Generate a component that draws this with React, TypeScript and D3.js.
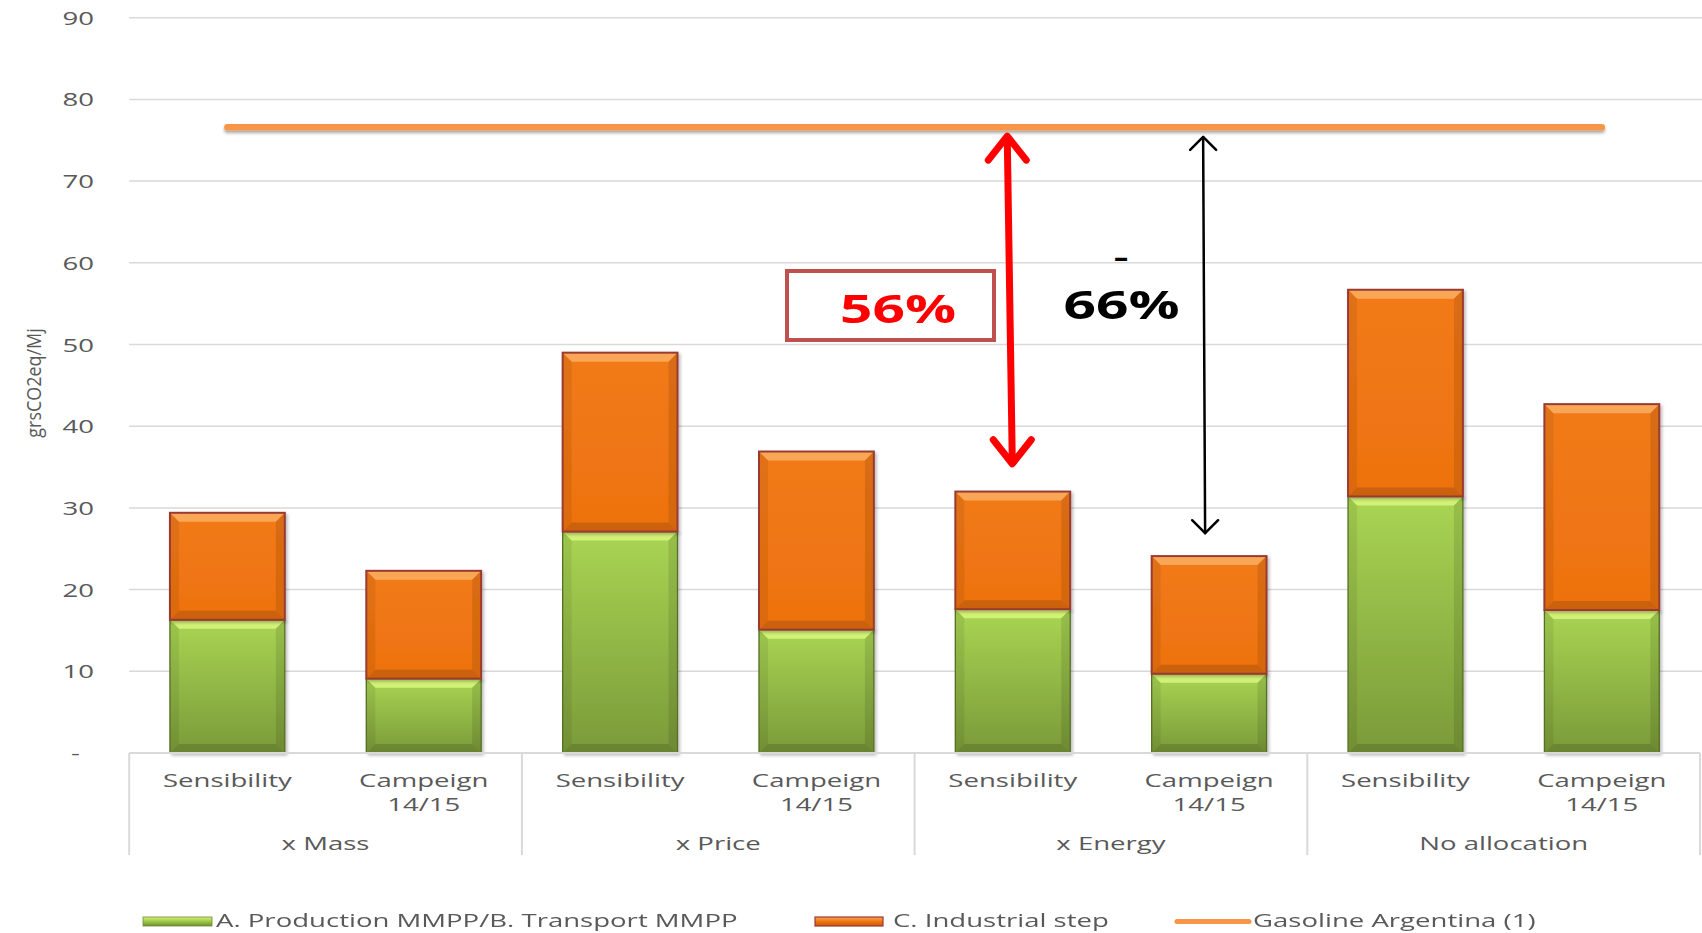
import React from "react";
import * as d3 from "d3";

// ---------- data ----------
const groups = ["x Mass", "x Price", "x Energy", "No allocation"];
const subCategories = [["Sensibility"], ["Campeign", "14/15"]];
const productionTransport = [16.3, 9.1, 27.1, 15.1, 17.6, 9.7, 31.4, 17.5];
const industrialStep = [13.1, 13.2, 21.9, 21.8, 14.4, 14.4, 25.3, 25.2];
const gasolineArgentina = 76.6;
const yTickValues = [0, 10, 20, 30, 40, 50, 60, 70, 80, 90];
const seriesNames = [
  "A. Production MMPP/B. Transport MMPP",
  "C. Industrial step",
  "Gasoline Argentina (1)",
];
const reductionArrowBars = [4, 5];
const reductionArrowBottoms = [35.4, 26.9];
const reductionArrowTops = [75.5, 75.4];
const reductionLabels = ["56%", "66%"];
const yAxisTitle = "grsCO2eq/Mj";

// ---------- layout ----------
const W = 1702;
const H = 933;
const plotLeft = 129.2;
const plotRight = 1700;
const yTop = 17.7;
const yBottom = 753;
const FONT = "'Open Sans', 'Liberation Sans', sans-serif";
const TXT = "#595959";
const SX = 1.45;

const categories = groups.flatMap((g, gi) =>
  subCategories.map((s, si) => ({ key: `${gi}-${si}`, group: g, lines: s }))
);

const rows = categories.map((c, i) => ({
  key: c.key,
  green: productionTransport[i],
  orange: industrialStep[i],
}));

function STxt(props: any) {
  const {
    x, y, children, anchor = "middle", size = 19, weight = 400,
    fill = TXT, sx = SX,
  } = props;
  return (
    <text
      transform={`translate(${x},${y}) scale(${sx},1)`}
      textAnchor={anchor}
      fontFamily={FONT}
      fontSize={size}
      fontWeight={weight}
      fill={fill}
    >
      {children}
    </text>
  );
}

function Segment(props: any) {
  const { x, y, w, h, kind } = props;
  const b = Math.min(9, h / 3);
  const isG = kind === "green";
  return (
    <g>
      <rect x={x} y={y} width={w} height={h} fill={isG ? "url(#gGreen)" : "url(#gOrange)"} />
      <polygon
        points={`${x},${y} ${x + w},${y} ${x + w - b},${y + b} ${x + b},${y + b}`}
        fill={isG ? "#e4ff86" : "#fbb66c"}
        opacity={isG ? 0.7 : 0.75}
      />
      <polygon
        points={`${x},${y} ${x + b},${y + b} ${x + b},${y + h - b} ${x},${y + h}`}
        fill="#000"
        opacity={0.07}
      />
      <polygon
        points={`${x + w},${y} ${x + w},${y + h} ${x + w - b},${y + h - b} ${x + w - b},${y + b}`}
        fill="#000"
        opacity={0.1}
      />
      <polygon
        points={`${x},${y + h} ${x + b},${y + h - b} ${x + w - b},${y + h - b} ${x + w},${y + h}`}
        fill="#000"
        opacity={0.14}
      />
      <rect
        x={x}
        y={y}
        width={w}
        height={h}
        fill="none"
        stroke={isG ? "#556f25" : "#9a3a33"}
        strokeWidth={isG ? 1.3 : 2}
      />
    </g>
  );
}

export default function App() {
  const x = d3
    .scaleBand<string>()
    .domain(categories.map((c) => c.key))
    .range([plotLeft, plotRight])
    .paddingInner(0.415)
    .paddingOuter(0.2075);
  const xg = d3.scaleBand<string>().domain(groups).range([plotLeft, plotRight]).padding(0);
  const y = d3.scaleLinear().domain([0, 90]).range([yBottom, yTop]);

  const stack = d3.stack<any>().keys(["green", "orange"]);
  const series = stack(rows);

  const center = (i: number) => (x(categories[i].key) as number) + x.bandwidth() / 2;
  const firstC = center(0);
  const lastC = center(categories.length - 1);
  const gy = y(gasolineArgentina);

  const chevron = (tx: number, ty: number, dx: number, dy: number) =>
    `M${tx - dx},${ty + dy} L${tx},${ty} L${tx + dx},${ty + dy}`;

  const redX = center(reductionArrowBars[0]);
  const blkX = center(reductionArrowBars[1]);
  const rTop = { x: redX - 5.5, y: y(reductionArrowTops[0]) };
  const rBot = { x: redX - 0.5, y: y(reductionArrowBottoms[0]) };
  const bTop = { x: blkX - 6, y: y(reductionArrowTops[1]) };
  const bBot = { x: blkX - 4, y: y(reductionArrowBottoms[1]) };

  return (
    <svg
      width={W}
      height={H}
      style={{ position: "absolute", left: 0, top: 0, display: "block", background: "#fff" }}
    >
      <defs>
        <linearGradient id="gGreen" x1="0" y1="0" x2="0" y2="1">
          <stop offset="0" stopColor="#a9d553" />
          <stop offset="1" stopColor="#7a9a39" />
        </linearGradient>
        <linearGradient id="gOrange" x1="0" y1="0" x2="0" y2="1">
          <stop offset="0" stopColor="#f27a16" />
          <stop offset="1" stopColor="#ed7210" />
        </linearGradient>
        <linearGradient id="gLegGreen" x1="0" y1="0" x2="0" y2="1">
          <stop offset="0" stopColor="#d6f27c" />
          <stop offset="0.5" stopColor="#9cc845" />
          <stop offset="1" stopColor="#6f8e33" />
        </linearGradient>
        <linearGradient id="gLegOrange" x1="0" y1="0" x2="0" y2="1">
          <stop offset="0" stopColor="#f9a85a" />
          <stop offset="0.5" stopColor="#ef7513" />
          <stop offset="1" stopColor="#c9590c" />
        </linearGradient>
        <filter id="shadow" x="-10%" y="-10%" width="130%" height="130%">
          <feDropShadow dx="2" dy="2" stdDeviation="1.5" floodColor="#000" floodOpacity="0.25" />
        </filter>
        <filter id="lineShadow" filterUnits="userSpaceOnUse" x="0" y="0" width={W} height={H}>
          <feDropShadow dx="0" dy="2.5" stdDeviation="1.5" floodColor="#000" floodOpacity="0.35" />
        </filter>
      </defs>

      {/* gridlines */}
      {yTickValues.filter((v) => v > 0).map((v) => (
        <line key={v} x1={plotLeft} x2={W} y1={y(v)} y2={y(v)} stroke="#d9d9d9" strokeWidth={1.5} />
      ))}

      {/* y tick labels */}
      {yTickValues.map((v) => (
        <STxt key={v} x={v === 0 ? 80 : 94} y={y(v) + 7} anchor="end">
          {v === 0 ? "-" : String(v)}
        </STxt>
      ))}

      {/* y axis title */}
      <text
        transform={`translate(41,383) rotate(-90) scale(0.92,1)`}
        textAnchor="middle"
        fontFamily={FONT}
        fontSize={19.5}
        fill={TXT}
      >
        {yAxisTitle}
      </text>

      {/* bars */}
      {series.map((s) => (
        <g key={s.key} filter="url(#shadow)">
          {s.map((d, i) => {
            const bx = x(categories[i].key) as number;
            const top = y(d[1]);
            const h = y(d[0]) - y(d[1]);
            return <Segment key={i} x={bx} y={top} w={x.bandwidth()} h={h} kind={s.key} />;
          })}
        </g>
      ))}

      {/* x axis line and group separators */}
      <line x1={plotLeft} x2={plotRight} y1={yBottom} y2={yBottom} stroke="#d9d9d9" strokeWidth={2} />
      {groups.map((g) => (
        <line
          key={g}
          x1={xg(g) as number}
          x2={xg(g) as number}
          y1={yBottom}
          y2={855}
          stroke="#d9d9d9"
          strokeWidth={2}
        />
      ))}
      <line x1={plotRight} x2={plotRight} y1={yBottom} y2={855} stroke="#d9d9d9" strokeWidth={2} />

      {/* category labels */}
      {categories.map((c, i) =>
        c.lines.map((ln, li) => (
          <STxt key={c.key + li} x={center(i)} y={787 + li * 24}>
            {ln}
          </STxt>
        ))
      )}
      {groups.map((g) => (
        <STxt key={g} x={(xg(g) as number) + xg.bandwidth() / 2} y={850}>
          {g}
        </STxt>
      ))}

      {/* gasoline line */}
      <line
        x1={firstC}
        x2={lastC}
        y1={gy}
        y2={gy}
        stroke="#f79646"
        strokeWidth={6.5}
        strokeLinecap="round"
        filter="url(#lineShadow)"
      />

      {/* red annotation */}
      <rect x={787} y={271} width={207} height={69} fill="#fff" stroke="#c0504d" strokeWidth={4} />
      <STxt x={898} y={323} size={40} weight={700} fill="#ff0000" sx={1.42}>
        {reductionLabels[0]}
      </STxt>
      <g stroke="#ff0000" strokeWidth={7} strokeLinecap="round" strokeLinejoin="round" fill="none">
        <line x1={rTop.x} y1={rTop.y + 3} x2={rBot.x} y2={rBot.y - 3} />
        <path d={chevron(rTop.x, rTop.y, 19, 24)} />
        <path d={chevron(rBot.x, rBot.y, 19, -24)} />
      </g>

      {/* black annotation: "-" over "66%" */}
      <STxt x={1121} y={267} size={26} weight={700} fill="#000" sx={1.75}>
        -
      </STxt>
      <STxt x={1121.5} y={319} size={40} weight={700} fill="#000" sx={1.42}>
        {reductionLabels[1]}
      </STxt>
      <g stroke="#000" strokeWidth={2.5} strokeLinecap="round" strokeLinejoin="round" fill="none">
        <line x1={bTop.x} y1={bTop.y} x2={bBot.x} y2={bBot.y} />
        <path d={chevron(bTop.x, bTop.y, 13, 13)} />
        <path d={chevron(bBot.x, bBot.y, 13, -13)} />
      </g>

      {/* legend */}
      <rect x={143} y={917} width={69} height={9} fill="url(#gLegGreen)" stroke="#6b8a2e" strokeWidth={0.8} />
      <STxt x={216} y={927} anchor="start">{seriesNames[0]}</STxt>
      <rect x={815} y={917} width={68} height={9} fill="url(#gLegOrange)" stroke="#9a3a33" strokeWidth={1.2} />
      <STxt x={893} y={927} anchor="start">{seriesNames[1]}</STxt>
      <line x1={1177} x2={1249} y1={921.5} y2={921.5} stroke="#f79646" strokeWidth={5} strokeLinecap="round" />
      <STxt x={1253} y={927} anchor="start">{seriesNames[2]}</STxt>
    </svg>
  );
}
